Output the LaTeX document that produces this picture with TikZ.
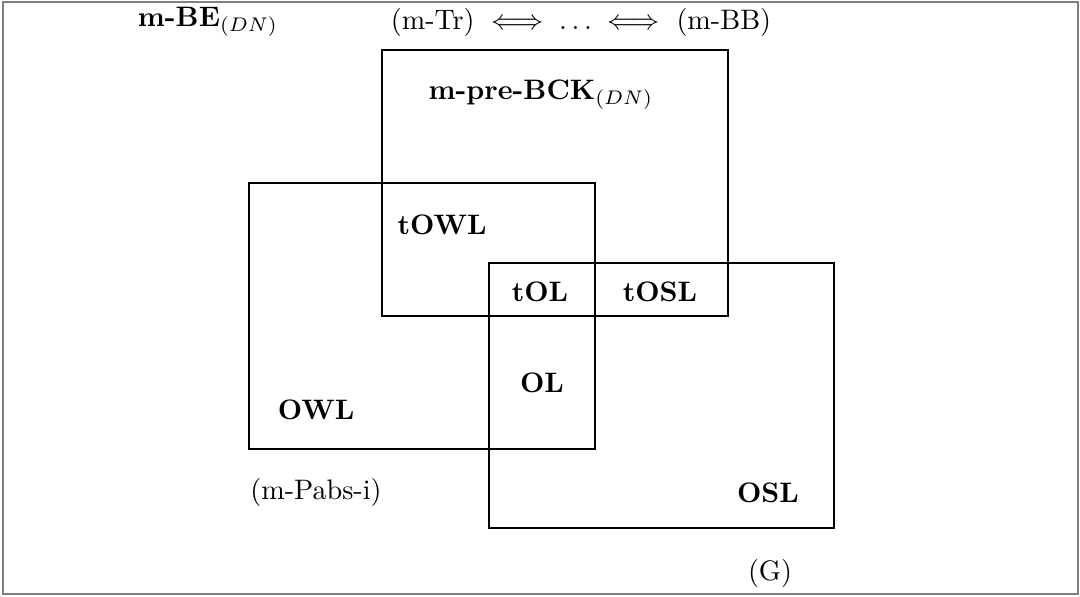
\documentclass[tikz,border=0pt]{standalone}
\usepackage{amsmath}
\usepackage{amssymb}
\usetikzlibrary{calc}

\begin{document}
\begin{tikzpicture}[x=0.355pt,y=-0.355pt]
    \useasboundingbox (0,0) rectangle (1080,596);
    \draw[gray, line width=0.7pt] (3,2) rectangle (1078,594);

    % Classes
    \draw (382,50) rectangle (728,316);
    \draw (249,183) rectangle (595,449);
    \draw (489,263) rectangle (834,528);

    \node (mbe) at (208,22) {\textbf{m-BE}$_{(DN)}$};
    \node (equiv) at (581,22) {(m-Tr) $\iff \ldots \iff$ (m-BB)};
    \node (mprebck) at (541,95) {\textbf{m-pre-BCK}$_{(DN)}$};
    \node (towl) at (442,225) {\textbf{tOWL}};
    \node (tol) at (540,292) {\textbf{tOL}};
    \node (tosl) at (660,292) {\textbf{tOSL}};
    \node (ol) at (542,383) {\textbf{OL}};
    \node (owl) at (316,410) {\textbf{OWL}};
    \node (pabs) at (316,492) {(m-Pabs-i)};
    \node (osl) at (768,493) {\textbf{OSL}};
    \node (g) at (770,573) {(G)};
    %\node[] at (0,0) {o}
\end{tikzpicture}
\end{document}
